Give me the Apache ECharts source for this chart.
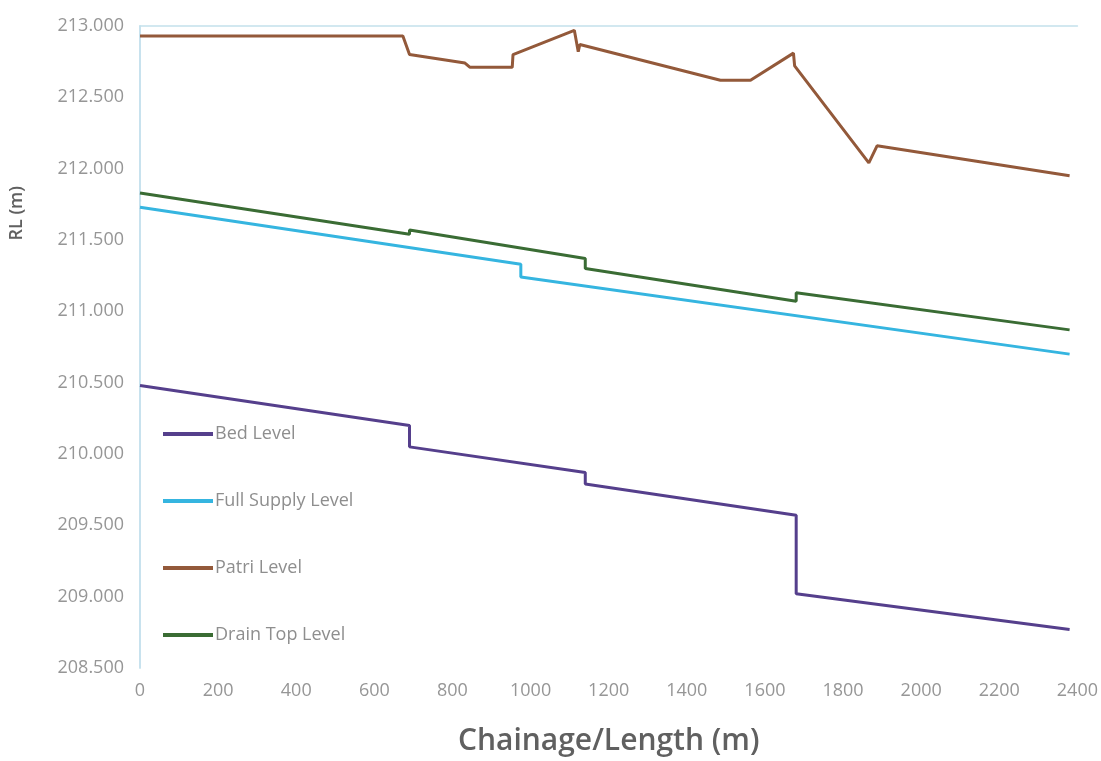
<!DOCTYPE html>
<html>
<head>
<meta charset="utf-8">
<title>Longitudinal Section</title>
<script src="https://cdn.jsdelivr.net/npm/echarts@6/dist/echarts.min.js"></script>
<style>
  html, body { margin: 0; padding: 0; background: #ffffff; }
  #chart { width: 1101px; height: 761px; }
</style>
</head>
<body>
<div id="chart"></div>
<script>
// Chainage (m) and reduced levels (m) along the channel
const bedChainage = [0, 690, 690, 1140, 1140, 1680, 1680, 2380];
const bedLevel = [210.48, 210.20, 210.05, 209.87, 209.79, 209.57, 209.02, 208.77];

const fslChainage = [0, 975, 975, 2380];
const fslLevel = [211.73, 211.33, 211.24, 210.70];

const patriChainage = [0, 673, 690, 832, 845, 953, 955, 1112, 1122, 1126, 1486, 1563, 1673, 1676, 1866, 1887, 2380];
const patriLevel = [212.93, 212.93, 212.80, 212.74, 212.71, 212.71, 212.80, 212.97, 212.82, 212.87, 212.62, 212.62, 212.81, 212.72, 212.04, 212.16, 211.95];

const drainChainage = [0, 690, 690, 1140, 1140, 1680, 1680, 2380];
const drainLevel = [211.83, 211.54, 211.57, 211.37, 211.30, 211.07, 211.13, 210.87];

const seriesNames = ['Bed Level', 'Full Supply Level', 'Patri Level', 'Drain Top Level'];
const seriesColors = ['#553f8c', '#35b5e0', '#93593a', '#3a6c34'];

const xTicks = { min: 0, max: 2400, step: 200 };
const yTicks = { min: 208.5, max: 213, step: 0.5 };

function pairs(xs, ys) {
  return xs.map((x, i) => [x, ys[i]]);
}

const seriesData = [
  pairs(bedChainage, bedLevel),
  pairs(fslChainage, fslLevel),
  pairs(patriChainage, patriLevel),
  pairs(drainChainage, drainLevel)
];

const chart = echarts.init(document.getElementById('chart'), null, { renderer: 'canvas' });

const labelFont = { color: '#969696', fontSize: 18, fontFamily: 'Open Sans' };
const frameLine = { show: true, lineStyle: { color: '#c4e1ec', width: 1.5 } };

chart.setOption({
  backgroundColor: '#ffffff',
  animation: false,
  grid: { left: 140, right: 20, top: 26, bottom: 93 },
  legend: {
    orient: 'vertical',
    left: 158,
    top: 420,
    itemWidth: 50,
    itemHeight: 4,
    itemGap: 49,
    icon: 'rect',
    data: seriesNames,
    textStyle: { color: '#8e8e8e', fontSize: 18, fontFamily: 'Open Sans', padding: [0, 0, 0, -3] }
  },
  graphic: [{
    type: 'text',
    left: 8,
    top: 186,
    rotation: Math.PI / 2,
    style: { text: 'RL (m)', fill: '#606060', font: '600 18px "Open Sans"' }
  }],
  xAxis: [{
    type: 'value',
    min: xTicks.min,
    max: xTicks.max,
    interval: xTicks.step,
    name: 'Chainage/Length (m)',
    nameLocation: 'middle',
    nameGap: 58,
    nameTextStyle: { color: '#606060', fontSize: 30, fontWeight: 600, fontFamily: 'Open Sans' },
    axisLine: { show: false },
    axisTick: { show: false },
    splitLine: { show: false },
    axisLabel: Object.assign({ margin: 14, formatter: v => String(v) }, labelFont)
  }, {
    type: 'value',
    position: 'top',
    min: xTicks.min,
    max: xTicks.max,
    axisLine: frameLine,
    axisTick: { show: false },
    axisLabel: { show: false },
    splitLine: { show: false }
  }],
  yAxis: [{
    type: 'value',
    min: yTicks.min,
    max: yTicks.max,
    interval: yTicks.step,
    axisLine: frameLine,
    axisTick: { show: false },
    splitLine: { show: false },
    axisLabel: Object.assign({ margin: 16, formatter: v => v.toFixed(3) }, labelFont)
  }, {
    type: 'value',
    position: 'right',
    min: yTicks.min,
    max: yTicks.max,
    axisLine: frameLine,
    axisTick: { show: false },
    axisLabel: { show: false },
    splitLine: { show: false }
  }],
  series: seriesNames.map((name, i) => ({
    name: name,
    type: 'line',
    data: seriesData[i],
    showSymbol: false,
    symbol: 'none',
    lineStyle: { color: seriesColors[i], width: 3 },
    itemStyle: { color: seriesColors[i] },
    z: 3
  }))
});
</script>
</body>
</html>
